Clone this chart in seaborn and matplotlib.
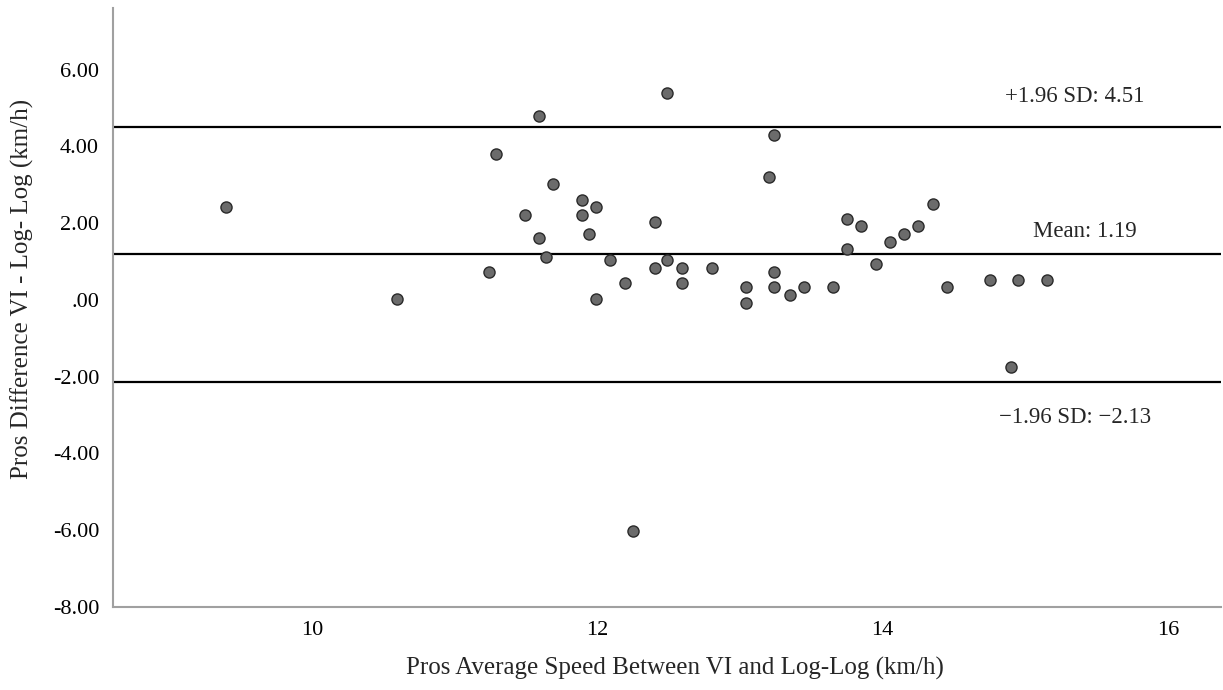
import pandas as pd
import seaborn as sns
import matplotlib.pyplot as plt
from matplotlib.ticker import FuncFormatter

# average speed (x) vs difference VI - Log-Log (y)
media = [9.39, 10.59, 11.24, 11.29, 11.49, 11.59, 11.59, 11.64, 11.69, 11.89,
         11.89, 11.94, 11.99, 11.99, 12.09, 12.19, 12.25, 12.40, 12.40, 12.49,
         12.49, 12.59, 12.59, 12.80, 13.04, 13.04, 13.20, 13.24, 13.24, 13.24,
         13.35, 13.45, 13.65, 13.75, 13.75, 13.85, 13.95, 14.05, 14.15, 14.25,
         14.35, 14.45, 14.75, 14.90, 14.95, 15.15]
diferenca = [2.42, 0.03, 0.74, 3.80, 2.22, 4.80, 1.62, 1.12, 3.01, 2.61,
             2.22, 1.72, 2.42, 0.03, 1.03, 0.43, -6.01, 2.02, 0.83, 5.39,
             1.03, 0.83, 0.43, 0.83, 0.33, -0.07, 3.21, 4.30, 0.73, 0.33,
             0.13, 0.33, 0.33, 2.12, 1.32, 1.92, 0.93, 1.52, 1.72, 1.92,
             2.51, 0.33, 0.52, -1.75, 0.52, 0.52]

media_dif = 1.19
lim_sup = 4.51
lim_inf = -2.13

y_ticks = [-8, -6, -4, -2, 0, 2, 4, 6]
x_ticks = [10, 12, 14, 16]

tabela = pd.DataFrame({"media": media, "dif": diferenca})

sns.set_style("white")
plt.rcParams['font.family'] = ['Liberation Serif', 'DejaVu Serif']

fig = plt.figure(figsize=(12.23, 6.9), dpi=100)
ax = fig.add_axes([0.0924, 0.1203, 0.9056, 0.8677])

# linhas de concordancia
for v in [lim_sup, media_dif, lim_inf]:
    ax.axhline(v, color='black', lw=1.6, zorder=1)

sns.scatterplot(data=tabela, x="media", y="dif", ax=ax, s=64,
                color='#6b6b6b', edgecolor='#2a2a2a', linewidth=1.0, zorder=3)

ax.text(15.35, lim_sup + 0.78, "+1.96 SD: 4.51", ha='center', va='center', fontsize=16.4)
ax.text(15.42, media_dif + 0.59, "Mean: 1.19", ha='center', va='center', fontsize=16.4)
ax.text(15.35, lim_inf - 0.92, "\u22121.96 SD: \u22122.13", ha='center', va='center', fontsize=16.4)

ax.set_xlim(8.6, 16.37)
ax.set_ylim(-8, 7.6)
ax.set_xticks(x_ticks)
ax.set_yticks(y_ticks)

def fmt_spss(v, pos):
    s = f"{v:.2f}"
    if s == "0.00":
        return ".00"
    return s

ax.yaxis.set_major_formatter(FuncFormatter(fmt_spss))
ax.tick_params(axis='both', length=0, labelsize=16, colors='black')
ax.tick_params(axis='y', pad=10)
ax.tick_params(axis='x', pad=10)

for lado in ['top', 'right']:
    ax.spines[lado].set_visible(False)
for lado in ['left', 'bottom']:
    ax.spines[lado].set_color('#a0a0a0')
    ax.spines[lado].set_linewidth(1.5)

ax.set_xlabel("Pros Average Speed Between VI and Log-Log (km/h)", fontsize=18)
ax.set_ylabel("Pros Difference VI - Log- Log (km/h)", fontsize=18)
ax.xaxis.set_label_coords(0.507, -0.102)
ax.yaxis.set_label_coords(-0.082, 0.531)
ax.xaxis.label.set_va('center')
ax.yaxis.label.set_va('center')

fig.savefig("out.png", dpi=100)
